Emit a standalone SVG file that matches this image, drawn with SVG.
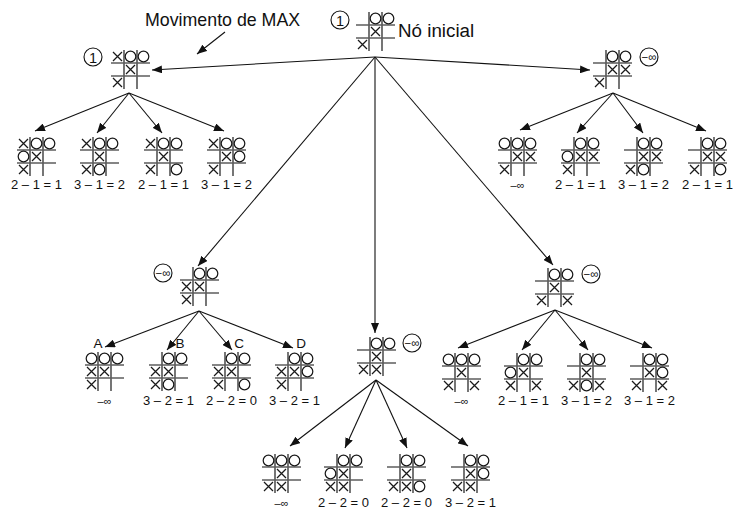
<svg xmlns="http://www.w3.org/2000/svg" width="747" height="523" viewBox="0 0 747 523">
<style>
.grid{fill:none;stroke:#5e5e5e;stroke-width:1.7}
.pc{fill:none;stroke:#1a1a1a;stroke-width:1.25}
.edge{fill:none;stroke:#111;stroke-width:1.1}
.lbl{font-family:"Liberation Sans",Arial,sans-serif;font-size:13px;fill:#111;text-anchor:middle}
.inf{font-family:"Liberation Sans",Arial,sans-serif;font-size:11px;fill:#111;text-anchor:middle}
.big{font-family:"Liberation Sans",Arial,sans-serif;fill:#111}
.let{font-family:"Liberation Sans",Arial,sans-serif;font-size:13.5px;fill:#111;text-anchor:middle}
.badge{fill:#fff;stroke:#111;stroke-width:1.1}
.btxt{font-family:"Liberation Sans",Arial,sans-serif;font-size:14.5px;fill:#111;text-anchor:middle}
.btxs{font-family:"Liberation Sans",Arial,sans-serif;font-size:11.5px;fill:#111;text-anchor:middle}
</style>
<defs>
<path id="G" class="grid" d="M13,0V39M26,0V39M0,13H39M0,26H39"/>
<path id="X" class="pc" d="M2,2L11,11M11,2L2,11"/>
<circle id="O" class="pc" cx="6.5" cy="6.5" r="5.3"/>
<marker id="ah" viewBox="0 0 10 8" refX="10" refY="4" markerWidth="10" markerHeight="8" markerUnits="userSpaceOnUse" orient="auto">
<path d="M0,0L10,4L0,8Z" fill="#111"/>
</marker>
</defs>
<rect width="747" height="523" fill="#fff"/>

<g id="connectors">
<path class="edge" marker-end="url(#ah)" d="M375,57L152,70"/>
<path class="edge" marker-end="url(#ah)" d="M375,57L590,70"/>
<path class="edge" marker-end="url(#ah)" d="M375,57L198,266"/>
<path class="edge" marker-end="url(#ah)" d="M375,57L375,333"/>
<path class="edge" marker-end="url(#ah)" d="M375,57L553,265"/>
<path class="edge" marker-end="url(#ah)" d="M225,32L197,54"/>
<path class="edge" marker-end="url(#ah)" d="M129,93L35,131"/>
<path class="edge" marker-end="url(#ah)" d="M129,93L97,133"/>
<path class="edge" marker-end="url(#ah)" d="M129,93L162,133"/>
<path class="edge" marker-end="url(#ah)" d="M129,93L224,131"/>
<path class="edge" marker-end="url(#ah)" d="M613,93L520,130"/>
<path class="edge" marker-end="url(#ah)" d="M613,93L577,133"/>
<path class="edge" marker-end="url(#ah)" d="M613,93L643,133"/>
<path class="edge" marker-end="url(#ah)" d="M613,93L706,131"/>
<path class="edge" marker-end="url(#ah)" d="M199,311L105,347"/>
<path class="edge" marker-end="url(#ah)" d="M199,311L167,350"/>
<path class="edge" marker-end="url(#ah)" d="M199,311L232,350"/>
<path class="edge" marker-end="url(#ah)" d="M199,311L293,348"/>
<path class="edge" marker-end="url(#ah)" d="M376,380L290,446"/>
<path class="edge" marker-end="url(#ah)" d="M376,380L345,448"/>
<path class="edge" marker-end="url(#ah)" d="M376,380L407,448"/>
<path class="edge" marker-end="url(#ah)" d="M376,380L468,446"/>
<path class="edge" marker-end="url(#ah)" d="M555,310L458,348"/>
<path class="edge" marker-end="url(#ah)" d="M555,310L522,350"/>
<path class="edge" marker-end="url(#ah)" d="M555,310L588,350"/>
<path class="edge" marker-end="url(#ah)" d="M555,310L652,348"/>
</g>

<text class="big" x="145" y="26" font-size="17.8">Movimento de MAX</text>

<g id="root">
<circle class="badge" cx="340" cy="20" r="9"/><text class="btxt" x="340" y="25.5">1</text>
<g transform="translate(356,12)"><use href="#G"/><use href="#O" x="13"/><use href="#O" x="26"/><use href="#X" x="13" y="13"/><use href="#X" y="26"/></g>
<text class="big" x="398" y="37" font-size="18.8">Nó inicial</text>
</g>

<g id="nL">
<circle class="badge" cx="93" cy="57" r="9"/><text class="btxt" x="93" y="62.5">1</text>
<g transform="translate(111,50)"><use href="#G"/><use href="#X"/><use href="#O" x="13"/><use href="#O" x="26"/><use href="#X" x="13" y="13"/><use href="#X" y="26"/></g>
</g>
<g id="nL1" transform="translate(17,137)"><use href="#G"/><use href="#X"/><use href="#O" x="13"/><use href="#O" x="26"/><use href="#O" y="13"/><use href="#X" x="13" y="13"/><use href="#X" y="26"/><text class="lbl" x="19.5" y="52">2 – 1 = 1</text></g>
<g id="nL2" transform="translate(80,137)"><use href="#G"/><use href="#X"/><use href="#O" x="13"/><use href="#O" x="26"/><use href="#X" x="13" y="13"/><use href="#X" y="26"/><use href="#O" x="13" y="26"/><text class="lbl" x="19.5" y="52">3 – 1 = 2</text></g>
<g id="nL3" transform="translate(144,137)"><use href="#G"/><use href="#X"/><use href="#O" x="13"/><use href="#O" x="26"/><use href="#X" x="13" y="13"/><use href="#X" y="26"/><use href="#O" x="26" y="26"/><text class="lbl" x="19.5" y="52">2 – 1 = 1</text></g>
<g id="nL4" transform="translate(207,137)"><use href="#G"/><use href="#X"/><use href="#O" x="13"/><use href="#O" x="26"/><use href="#X" x="13" y="13"/><use href="#O" x="26" y="13"/><use href="#X" y="26"/><text class="lbl" x="19.5" y="52">3 – 1 = 2</text></g>

<g id="nR">
<circle class="badge" cx="649" cy="57" r="9"/><text class="btxs" x="649" y="61">−∞</text>
<g transform="translate(593,50)"><use href="#G"/><use href="#O" x="13"/><use href="#O" x="26"/><use href="#X" x="13" y="13"/><use href="#X" x="26" y="13"/><use href="#X" y="26"/></g>
</g>
<g id="nR1" transform="translate(498,137)"><use href="#G"/><use href="#O"/><use href="#O" x="13"/><use href="#O" x="26"/><use href="#X" x="13" y="13"/><use href="#X" x="26" y="13"/><use href="#X" y="26"/><text class="inf" x="19.5" y="52">–∞</text></g>
<g id="nR2" transform="translate(561,137)"><use href="#G"/><use href="#O" x="13"/><use href="#O" x="26"/><use href="#O" y="13"/><use href="#X" x="13" y="13"/><use href="#X" x="26" y="13"/><use href="#X" y="26"/><text class="lbl" x="19.5" y="52">2 – 1 = 1</text></g>
<g id="nR3" transform="translate(624,137)"><use href="#G"/><use href="#O" x="13"/><use href="#O" x="26"/><use href="#X" x="13" y="13"/><use href="#X" x="26" y="13"/><use href="#X" y="26"/><use href="#O" x="13" y="26"/><text class="lbl" x="19.5" y="52">3 – 1 = 2</text></g>
<g id="nR4" transform="translate(688,137)"><use href="#G"/><use href="#O" x="13"/><use href="#O" x="26"/><use href="#X" x="13" y="13"/><use href="#X" x="26" y="13"/><use href="#X" y="26"/><use href="#O" x="26" y="26"/><text class="lbl" x="19.5" y="52">2 – 1 = 1</text></g>

<g id="nML">
<circle class="badge" cx="163" cy="273" r="9"/><text class="btxs" x="163" y="277">−∞</text>
<g transform="translate(180,267)"><use href="#G"/><use href="#O" x="13"/><use href="#O" x="26"/><use href="#X" y="13"/><use href="#X" x="13" y="13"/><use href="#X" y="26"/></g>
</g>
<g id="nA" transform="translate(85,352)"><text class="let" x="13" y="-4">A</text><use href="#G"/><use href="#O"/><use href="#O" x="13"/><use href="#O" x="26"/><use href="#X" y="13"/><use href="#X" x="13" y="13"/><use href="#X" y="26"/><text class="inf" x="19.5" y="53">–∞</text></g>
<g id="nB" transform="translate(149,352)"><text class="let" x="31" y="-4">B</text><use href="#G"/><use href="#O" x="13"/><use href="#O" x="26"/><use href="#X" y="13"/><use href="#X" x="13" y="13"/><use href="#X" y="26"/><use href="#O" x="13" y="26"/><text class="lbl" x="19.5" y="53">3 – 2 = 1</text></g>
<g id="nC" transform="translate(212,352)"><text class="let" x="27" y="-4">C</text><use href="#G"/><use href="#O" x="13"/><use href="#O" x="26"/><use href="#X" y="13"/><use href="#X" x="13" y="13"/><use href="#X" y="26"/><use href="#O" x="26" y="26"/><text class="lbl" x="19.5" y="53">2 – 2 = 0</text></g>
<g id="nD" transform="translate(275,352)"><text class="let" x="26" y="-4">D</text><use href="#G"/><use href="#O" x="13"/><use href="#O" x="26"/><use href="#X" y="13"/><use href="#X" x="13" y="13"/><use href="#O" x="26" y="13"/><use href="#X" y="26"/><text class="lbl" x="19.5" y="53">3 – 2 = 1</text></g>

<g id="nM">
<circle class="badge" cx="412" cy="343" r="9"/><text class="btxs" x="412" y="347">−∞</text>
<g transform="translate(357,337)"><use href="#G"/><use href="#O" x="13"/><use href="#O" x="26"/><use href="#X" x="13" y="13"/><use href="#X" y="26"/><use href="#X" x="13" y="26"/></g>
</g>
<g id="nM1" transform="translate(262,454)"><use href="#G"/><use href="#O"/><use href="#O" x="13"/><use href="#O" x="26"/><use href="#X" x="13" y="13"/><use href="#X" y="26"/><use href="#X" x="13" y="26"/><text class="inf" x="19.5" y="53">–∞</text></g>
<g id="nM2" transform="translate(324,454)"><use href="#G"/><use href="#O" x="13"/><use href="#O" x="26"/><use href="#O" y="13"/><use href="#X" x="13" y="13"/><use href="#X" y="26"/><use href="#X" x="13" y="26"/><text class="lbl" x="19.5" y="53">2 – 2 = 0</text></g>
<g id="nM3" transform="translate(387,454)"><use href="#G"/><use href="#O" x="13"/><use href="#O" x="26"/><use href="#X" x="13" y="13"/><use href="#X" y="26"/><use href="#X" x="13" y="26"/><use href="#O" x="26" y="26"/><text class="lbl" x="19.5" y="53">2 – 2 = 0</text></g>
<g id="nM4" transform="translate(451,454)"><use href="#G"/><use href="#O" x="13"/><use href="#O" x="26"/><use href="#X" x="13" y="13"/><use href="#O" x="26" y="13"/><use href="#X" y="26"/><use href="#X" x="13" y="26"/><text class="lbl" x="19.5" y="53">3 – 2 = 1</text></g>

<g id="nRM">
<circle class="badge" cx="591" cy="274" r="9"/><text class="btxs" x="591" y="278">−∞</text>
<g transform="translate(535,268)"><use href="#G"/><use href="#O" x="13"/><use href="#O" x="26"/><use href="#X" x="13" y="13"/><use href="#X" y="26"/><use href="#X" x="26" y="26"/></g>
</g>
<g id="nRM1" transform="translate(442,353)"><use href="#G"/><use href="#O"/><use href="#O" x="13"/><use href="#O" x="26"/><use href="#X" x="13" y="13"/><use href="#X" y="26"/><use href="#X" x="26" y="26"/><text class="inf" x="19.5" y="52">–∞</text></g>
<g id="nRM2" transform="translate(504,353)"><use href="#G"/><use href="#O" x="13"/><use href="#O" x="26"/><use href="#O" y="13"/><use href="#X" x="13" y="13"/><use href="#X" y="26"/><use href="#X" x="26" y="26"/><text class="lbl" x="19.5" y="52">2 – 1 = 1</text></g>
<g id="nRM3" transform="translate(567,353)"><use href="#G"/><use href="#O" x="13"/><use href="#O" x="26"/><use href="#X" x="13" y="13"/><use href="#X" y="26"/><use href="#O" x="13" y="26"/><use href="#X" x="26" y="26"/><text class="lbl" x="19.5" y="52">3 – 1 = 2</text></g>
<g id="nRM4" transform="translate(630,353)"><use href="#G"/><use href="#O" x="13"/><use href="#O" x="26"/><use href="#X" x="13" y="13"/><use href="#O" x="26" y="13"/><use href="#X" y="26"/><use href="#X" x="26" y="26"/><text class="lbl" x="19.5" y="52">3 – 1 = 2</text></g>
</svg>
